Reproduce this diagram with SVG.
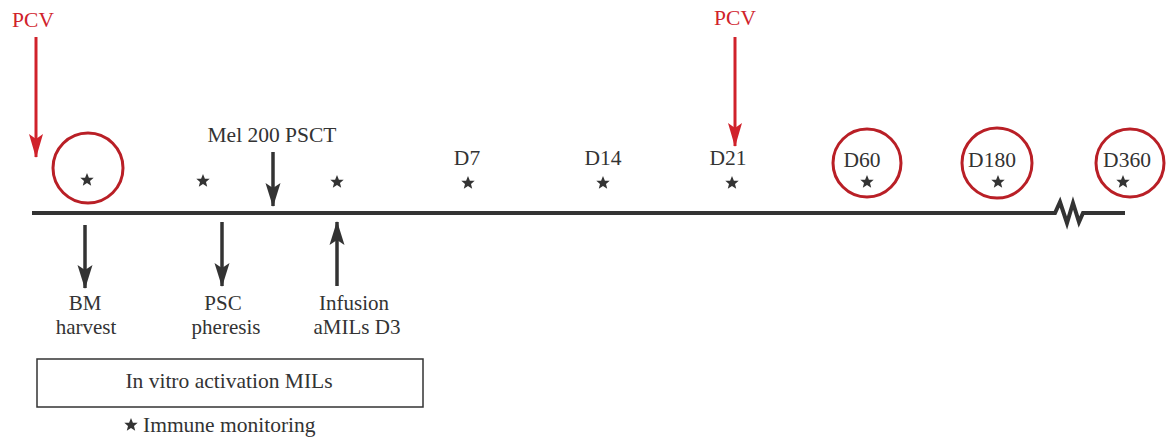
<svg xmlns="http://www.w3.org/2000/svg" width="1166" height="439" viewBox="0 0 1166 439">
<style>
text{font-family:"Liberation Serif","Times New Roman",serif;font-size:21.5px;fill:#333}
.lab{font-size:21px}
.red{fill:#d0222b}
.circ{fill:none;stroke:#b91f26;stroke-width:3}
.ln{stroke:#333;stroke-width:3.5;fill:none}
.tl{stroke:#333;stroke-width:4;fill:none;stroke-linejoin:miter}
.rln{stroke:#d0222b;stroke-width:3;fill:none}
</style>
<defs>
<marker id="ah" viewBox="0 0 24 16" refX="23" refY="8" markerWidth="24" markerHeight="16" markerUnits="userSpaceOnUse" orient="auto">
<path d="M0,0.5 L24,8 L0,15.5 L5,8 Z" fill="#333"/>
</marker>
<marker id="rah" viewBox="0 0 24 16" refX="23" refY="8" markerWidth="24" markerHeight="16" markerUnits="userSpaceOnUse" orient="auto">
<path d="M0,1 L24,8 L0,15 L5,8 Z" fill="#d0222b"/>
</marker>
<path id="star" d="M0,-7 L1.9,-2.3 L6.7,-2.2 L3,0.9 L4.2,5.8 L0,3 L-4.2,5.8 L-3,0.9 L-6.7,-2.2 L-1.9,-2.3 Z" fill="#333"/>
</defs>

<g id="connectors">
<path class="tl" d="M32,213 H1055 L1060,202 L1067,223 L1073,203 L1079,222 L1083,213 H1125"/>
<line class="rln" x1="36" y1="37" x2="36" y2="157" marker-end="url(#rah)"/>
<line class="rln" x1="735" y1="37" x2="735" y2="146" marker-end="url(#rah)"/>
<line class="ln" x1="273" y1="152" x2="273" y2="206" marker-end="url(#ah)"/>
<line class="ln" x1="85" y1="225" x2="85" y2="288" marker-end="url(#ah)"/>
<line class="ln" x1="222" y1="222" x2="222" y2="286" marker-end="url(#ah)"/>
<line class="ln" x1="337" y1="286" x2="337" y2="222" marker-end="url(#ah)"/>
</g>

<g id="pcv1"><text class="red" x="33" y="27" text-anchor="middle">PCV</text></g>
<g id="pcv2"><text class="red" x="735" y="25" text-anchor="middle">PCV</text></g>

<g id="m0"><circle class="circ" cx="88" cy="168" r="35"/><use href="#star" x="87" y="180"/></g>
<g id="m1"><use href="#star" x="203" y="181"/></g>
<g id="mel"><text x="272" y="142" text-anchor="middle">Mel 200 PSCT</text></g>
<g id="m2"><use href="#star" x="337" y="182"/></g>
<g id="d7"><text x="467" y="165" text-anchor="middle">D7</text><use href="#star" x="468" y="183"/></g>
<g id="d14"><text x="603" y="165" text-anchor="middle">D14</text><use href="#star" x="603" y="183"/></g>
<g id="d21"><text x="728" y="165" text-anchor="middle">D21</text><use href="#star" x="732" y="183"/></g>
<g id="d60"><circle class="circ" cx="867" cy="163" r="34"/><text x="862" y="167" text-anchor="middle">D60</text><use href="#star" x="867" y="182"/></g>
<g id="d180"><circle class="circ" cx="997" cy="163" r="35"/><text x="992" y="167" text-anchor="middle">D180</text><use href="#star" x="998" y="182"/></g>
<g id="d360"><circle class="circ" cx="1130" cy="163" r="34"/><text x="1127" y="167" text-anchor="middle">D360</text><use href="#star" x="1123" y="182"/></g>

<g id="bm"><text class="lab" x="85" y="310" text-anchor="middle">BM</text><text class="lab" x="86" y="334" text-anchor="middle">harvest</text></g>
<g id="psc"><text class="lab" x="223" y="310" text-anchor="middle">PSC</text><text class="lab" x="226" y="334" text-anchor="middle">pheresis</text></g>
<g id="inf"><text class="lab" x="354" y="310" text-anchor="middle">Infusion</text><text class="lab" x="357" y="334" text-anchor="middle">aMILs D3</text></g>

<g id="box"><rect x="37" y="359" width="386" height="48" fill="none" stroke="#333" stroke-width="1.5"/><text x="229" y="388" text-anchor="middle">In vitro activation MILs</text></g>
<g id="legend"><use href="#star" x="131" y="425"/><text x="143" y="432">Immune monitoring</text></g>
</svg>
